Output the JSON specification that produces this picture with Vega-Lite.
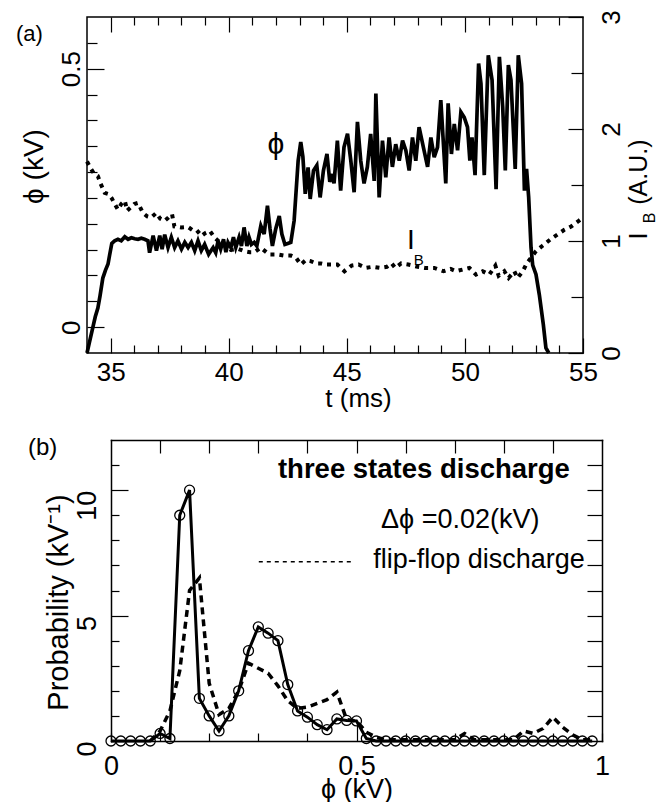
{
  "$schema": "https://vega.github.io/schema/vega-lite/v6.json",
  "padding": {"left": 15, "top": 9, "right": 0, "bottom": 0},
  "spacing": 23,
  "config": {
    "font": "Liberation Sans",
    "view": {"stroke": "#000", "strokeWidth": 1.5},
    "axis": {"domain": false, "grid": false, "tickColor": "#000", "tickWidth": 1.2, "labelColor": "#000", "titleColor": "#000", "labelFont": "Liberation Sans", "titleFont": "Liberation Sans", "labelFontSize": 26, "titleFontSize": 28, "titleFontWeight": "normal", "labelFlush": false, "labelOverlap": false, "labelBound": false, "format": "~g"},
    "text": {"font": "Liberation Sans", "color": "#000"}
  },
  "datasets": {
    "phi": [
      {"t":34.0,"v":-0.05},{"t":34.1,"v":-0.03},{"t":34.25,"v":0.0},{"t":34.35,"v":0.02},{"t":34.46,"v":0.037},{"t":34.55,"v":0.06},{"t":34.67,"v":0.095},{"t":34.78,"v":0.11},{"t":34.89,"v":0.122},{"t":34.96,"v":0.14},{"t":35.05,"v":0.162},{"t":35.17,"v":0.167},{"t":35.31,"v":0.17},{"t":35.45,"v":0.167},{"t":35.6,"v":0.175},{"t":35.74,"v":0.17},{"t":35.88,"v":0.173},{"t":36.02,"v":0.171},{"t":36.16,"v":0.17},{"t":36.3,"v":0.172},{"t":36.44,"v":0.17},{"t":36.58,"v":0.167},{"t":36.65,"v":0.144},{"t":36.8,"v":0.177},{"t":36.94,"v":0.148},{"t":37.08,"v":0.177},{"t":37.18,"v":0.151},{"t":37.29,"v":0.179},{"t":37.43,"v":0.154},{"t":37.57,"v":0.174},{"t":37.71,"v":0.154},{"t":37.85,"v":0.167},{"t":38.0,"v":0.151},{"t":38.14,"v":0.164},{"t":38.28,"v":0.154},{"t":38.42,"v":0.164},{"t":38.56,"v":0.148},{"t":38.7,"v":0.167},{"t":38.84,"v":0.148},{"t":38.98,"v":0.16},{"t":39.15,"v":0.141},{"t":39.34,"v":0.154},{"t":39.45,"v":0.144},{"t":39.55,"v":0.167},{"t":39.66,"v":0.151},{"t":39.78,"v":0.17},{"t":39.88,"v":0.145},{"t":39.97,"v":0.164},{"t":40.09,"v":0.154},{"t":40.2,"v":0.174},{"t":40.3,"v":0.154},{"t":40.44,"v":0.174},{"t":40.54,"v":0.157},{"t":40.65,"v":0.193},{"t":40.77,"v":0.157},{"t":40.86,"v":0.174},{"t":40.96,"v":0.16},{"t":41.08,"v":0.164},{"t":41.19,"v":0.157},{"t":41.36,"v":0.196},{"t":41.5,"v":0.18},{"t":41.64,"v":0.235},{"t":41.75,"v":0.19},{"t":41.85,"v":0.157},{"t":41.99,"v":0.19},{"t":42.14,"v":0.215},{"t":42.25,"v":0.18},{"t":42.38,"v":0.16},{"t":42.5,"v":0.162},{"t":42.63,"v":0.164},{"t":42.77,"v":0.206},{"t":42.94,"v":0.322},{"t":43.05,"v":0.358},{"t":43.14,"v":0.33},{"t":43.24,"v":0.258},{"t":43.36,"v":0.309},{"t":43.45,"v":0.248},{"t":43.59,"v":0.303},{"t":43.73,"v":0.313},{"t":43.87,"v":0.251},{"t":44.01,"v":0.303},{"t":44.16,"v":0.335},{"t":44.28,"v":0.281},{"t":44.4,"v":0.296},{"t":44.46,"v":0.278},{"t":44.6,"v":0.361},{"t":44.74,"v":0.264},{"t":44.88,"v":0.348},{"t":45.03,"v":0.374},{"t":45.17,"v":0.322},{"t":45.31,"v":0.261},{"t":45.45,"v":0.397},{"t":45.59,"v":0.322},{"t":45.73,"v":0.278},{"t":45.87,"v":0.31},{"t":46.01,"v":0.374},{"t":46.16,"v":0.283},{"t":46.23,"v":0.452},{"t":46.37,"v":0.251},{"t":46.51,"v":0.361},{"t":46.65,"v":0.29},{"t":46.79,"v":0.367},{"t":46.93,"v":0.31},{"t":47.07,"v":0.354},{"t":47.22,"v":0.322},{"t":47.36,"v":0.361},{"t":47.5,"v":0.342},{"t":47.64,"v":0.303},{"t":47.78,"v":0.367},{"t":47.92,"v":0.322},{"t":48.06,"v":0.387},{"t":48.27,"v":0.342},{"t":48.42,"v":0.31},{"t":48.56,"v":0.367},{"t":48.7,"v":0.329},{"t":48.84,"v":0.348},{"t":48.98,"v":0.439},{"t":49.19,"v":0.278},{"t":49.29,"v":0.433},{"t":49.43,"v":0.335},{"t":49.55,"v":0.393},{"t":49.69,"v":0.342},{"t":49.83,"v":0.416},{"t":49.97,"v":0.406},{"t":50.11,"v":0.387},{"t":50.21,"v":0.322},{"t":50.3,"v":0.367},{"t":50.43,"v":0.294},{"t":50.58,"v":0.51},{"t":50.68,"v":0.471},{"t":50.82,"v":0.294},{"t":50.99,"v":0.526},{"t":51.15,"v":0.478},{"t":51.32,"v":0.267},{"t":51.46,"v":0.523},{"t":51.6,"v":0.426},{"t":51.71,"v":0.303},{"t":51.84,"v":0.507},{"t":51.95,"v":0.478},{"t":52.13,"v":0.306},{"t":52.26,"v":0.526},{"t":52.4,"v":0.471},{"t":52.52,"v":0.264},{"t":52.61,"v":0.306},{"t":52.7,"v":0.251},{"t":52.8,"v":0.154},{"t":52.87,"v":0.12},{"t":53.01,"v":0.102},{"t":53.15,"v":0.063},{"t":53.32,"v":0.005},{"t":53.43,"v":-0.04},{"t":53.55,"v":-0.05}
    ],
    "ib": [
      {"t":34.0,"v":1.71},{"t":34.15,"v":1.65},{"t":34.3,"v":1.6},{"t":34.46,"v":1.58},{"t":34.58,"v":1.51},{"t":34.75,"v":1.43},{"t":34.9,"v":1.42},{"t":35.05,"v":1.38},{"t":35.2,"v":1.32},{"t":35.31,"v":1.28},{"t":35.45,"v":1.33},{"t":35.6,"v":1.36},{"t":35.7,"v":1.27},{"t":35.85,"v":1.3},{"t":36.0,"v":1.33},{"t":36.16,"v":1.34},{"t":36.37,"v":1.25},{"t":36.55,"v":1.22},{"t":36.72,"v":1.21},{"t":36.93,"v":1.25},{"t":37.1,"v":1.2},{"t":37.29,"v":1.18},{"t":37.45,"v":1.21},{"t":37.6,"v":1.24},{"t":37.7,"v":1.13},{"t":38.0,"v":1.12},{"t":38.28,"v":1.125},{"t":38.45,"v":1.1},{"t":38.63,"v":1.1},{"t":38.85,"v":1.045},{"t":39.0,"v":1.07},{"t":39.2,"v":1.09},{"t":39.4,"v":1.03},{"t":39.66,"v":0.98},{"t":39.9,"v":0.96},{"t":40.09,"v":0.92},{"t":40.4,"v":0.93},{"t":40.65,"v":0.91},{"t":40.9,"v":0.9},{"t":41.08,"v":0.9},{"t":41.36,"v":0.94},{"t":41.71,"v":0.88},{"t":42.07,"v":0.88},{"t":42.35,"v":0.87},{"t":42.63,"v":0.87},{"t":42.85,"v":0.85},{"t":43.05,"v":0.79},{"t":43.27,"v":0.83},{"t":43.47,"v":0.82},{"t":43.7,"v":0.8},{"t":43.9,"v":0.8},{"t":44.1,"v":0.79},{"t":44.32,"v":0.79},{"t":44.6,"v":0.79},{"t":44.9,"v":0.73},{"t":45.2,"v":0.78},{"t":45.5,"v":0.79},{"t":45.8,"v":0.76},{"t":46.1,"v":0.77},{"t":46.4,"v":0.76},{"t":46.7,"v":0.77},{"t":46.9,"v":0.8},{"t":47.05,"v":0.76},{"t":47.3,"v":0.8},{"t":47.6,"v":0.79},{"t":48.0,"v":0.77},{"t":48.3,"v":0.76},{"t":48.7,"v":0.76},{"t":49.1,"v":0.73},{"t":49.4,"v":0.75},{"t":49.62,"v":0.73},{"t":49.9,"v":0.745},{"t":50.19,"v":0.76},{"t":50.47,"v":0.7},{"t":50.75,"v":0.73},{"t":51.03,"v":0.7},{"t":51.29,"v":0.78},{"t":51.43,"v":0.69},{"t":51.67,"v":0.73},{"t":51.85,"v":0.67},{"t":52.09,"v":0.73},{"t":52.23,"v":0.67},{"t":52.45,"v":0.73},{"t":52.62,"v":0.8},{"t":52.8,"v":0.85},{"t":53.01,"v":0.91},{"t":53.3,"v":0.96},{"t":53.65,"v":1.02},{"t":53.93,"v":1.06},{"t":54.21,"v":1.1},{"t":54.5,"v":1.13},{"t":54.82,"v":1.18},{"t":55.0,"v":1.21}
    ],
    "prob": [
      {"phi":0.0,"three":0,"flip":null},{"phi":0.02,"three":0,"flip":null},{"phi":0.04,"three":0,"flip":null},{"phi":0.06,"three":0,"flip":null},{"phi":0.08,"three":0,"flip":0.0},{"phi":0.1,"three":0.3,"flip":0.4},{"phi":0.12,"three":0.1,"flip":1.2},{"phi":0.14,"three":9.0,"flip":2.8},{"phi":0.16,"three":10.0,"flip":6.0},{"phi":0.18,"three":1.7,"flip":6.5},{"phi":0.2,"three":1.0,"flip":2.3},{"phi":0.22,"three":0.4,"flip":1.05},{"phi":0.24,"three":1.0,"flip":1.3},{"phi":0.26,"three":2.0,"flip":2.0},{"phi":0.28,"three":3.6,"flip":3.1},{"phi":0.3,"three":4.55,"flip":2.9},{"phi":0.32,"three":4.3,"flip":2.7},{"phi":0.34,"three":4.0,"flip":2.2},{"phi":0.36,"three":2.25,"flip":1.6},{"phi":0.38,"three":1.2,"flip":1.3},{"phi":0.4,"three":0.95,"flip":1.35},{"phi":0.42,"three":0.65,"flip":1.5},{"phi":0.44,"three":0.45,"flip":1.65},{"phi":0.46,"three":0.88,"flip":1.95},{"phi":0.48,"three":0.82,"flip":0.85},{"phi":0.5,"three":0.8,"flip":0.8},{"phi":0.52,"three":0.1,"flip":0.35},{"phi":0.54,"three":0,"flip":0.15},{"phi":0.56,"three":0,"flip":0.05},{"phi":0.58,"three":0,"flip":0.05},{"phi":0.6,"three":0,"flip":0.05},{"phi":0.62,"three":0,"flip":0.05},{"phi":0.64,"three":0,"flip":0.05},{"phi":0.66,"three":0,"flip":0.05},{"phi":0.68,"three":0,"flip":0.05},{"phi":0.7,"three":0,"flip":0.05},{"phi":0.72,"three":0,"flip":0.3},{"phi":0.74,"three":0,"flip":0.05},{"phi":0.76,"three":0,"flip":0.05},{"phi":0.78,"three":0,"flip":0.05},{"phi":0.8,"three":0,"flip":0.05},{"phi":0.82,"three":0,"flip":0.05},{"phi":0.84,"three":0,"flip":0.4},{"phi":0.86,"three":0,"flip":0.3},{"phi":0.88,"three":0,"flip":0.5},{"phi":0.9,"three":0,"flip":0.95},{"phi":0.92,"three":0,"flip":0.55},{"phi":0.94,"three":0,"flip":0.25},{"phi":0.96,"three":0,"flip":0.05},{"phi":0.98,"three":0,"flip":0.05}
    ]
  },
  "vconcat": [
    {
      "width": 496,
      "height": 336,
      "resolve": {"scale": {"y": "independent"}, "axis": {"x": "independent", "y": "independent"}},
      "layer": [
        {
          "data": {"name": "phi"},
          "mark": {"type": "line", "color": "#000", "strokeWidth": 3.7},
          "encoding": {
            "x": {"field": "t", "type": "quantitative", "scale": {"domain": [34, 55], "nice": false, "zero": false},
              "axis": {"orient": "bottom", "values": [34,35,36,37,38,39,40,41,42,43,44,45,46,47,48,49,50,51,52,53,54,55],
                "tickSize": {"condition": {"test": "datum.value % 5 === 0", "value": -15}, "value": -8},
                "labelExpr": "datum.value % 5 === 0 ? datum.label : ''", "labelPadding": 21,
                "title": "t (ms)", "titleFontSize": 26, "titleX": 271, "titleY": 53, "titleBaseline": "alphabetic", "titleAlign": "center"}},
            "y": {"field": "v", "type": "quantitative", "scale": {"domain": [-0.05, 0.6], "nice": false, "zero": false},
              "axis": {"orient": "left", "values": [0,0.05,0.1,0.15,0.2,0.25,0.3,0.35,0.4,0.45,0.5,0.55],
                "tickSize": {"condition": {"test": "abs(datum.value) < 1e-9 || abs(datum.value - 0.5) < 1e-9", "value": -17}, "value": -10},
                "labelExpr": "(abs(datum.value) < 1e-9 || abs(datum.value - 0.5) < 1e-9) ? datum.label : ''",
                "labelAngle": -90, "labelAlign": "center", "labelBaseline": "bottom", "labelPadding": 20,
                "title": "ϕ (kV)", "titleAngle": 270, "titleX": -53, "titleY": 149, "titleBaseline": "middle", "titleAlign": "center", "titleFontSize": 28}}
          }
        },
        {
          "data": {"name": "ib"},
          "mark": {"type": "line", "color": "#000", "strokeWidth": 4, "strokeDash": [4, 5]},
          "encoding": {
            "x": {"field": "t", "type": "quantitative",
              "axis": {"orient": "top", "values": [35,36,37,38,39,40,41,42,43,44,45,46,47,48,49,50,51,52,53,54],
                "tickSize": {"condition": {"test": "datum.value % 5 === 0", "value": -15}, "value": -8},
                "labels": false, "title": null}},
            "y": {"field": "v", "type": "quantitative", "scale": {"domain": [0, 3], "nice": false, "zero": false},
              "axis": {"orient": "right", "values": [0,0.5,1,1.5,2,2.5,3],
                "tickSize": {"condition": {"test": "datum.value % 1 === 0", "value": -15}, "value": -12},
                "labelExpr": "datum.value % 1 === 0 ? datum.label : ''",
                "labelAngle": -90, "labelAlign": "center", "labelBaseline": "top", "labelPadding": 30,
                "title": "I\u00a0\u00a0\u00a0\u00a0(A.U.)", "titleAngle": 270, "titleX": 55, "titleY": 172, "titleBaseline": "middle", "titleAlign": "center", "titleFontSize": 25}}
          }
        },
        {
          "data": {"values": [{"t": 42.0, "v": 0.353, "label": "ϕ"}]},
          "mark": {"type": "text", "fontSize": 30, "align": "center", "baseline": "middle"},
          "encoding": {
            "x": {"field": "t", "type": "quantitative", "axis": null},
            "y": {"field": "v", "type": "quantitative", "scale": {"domain": [-0.05, 0.6], "nice": false, "zero": false}, "axis": null},
            "text": {"field": "label"}
          }
        },
        {
          "data": {"values": [{"t": 30.99, "v": 0.554, "label": "(a)"}]},
          "mark": {"type": "text", "fontSize": 22, "align": "left", "baseline": "alphabetic"},
          "encoding": {
            "x": {"field": "t", "type": "quantitative", "axis": null},
            "y": {"field": "v", "type": "quantitative", "scale": {"domain": [-0.05, 0.6], "nice": false, "zero": false}, "axis": null},
            "text": {"field": "label"}
          }
        },
        {
          "data": {"values": [{"t": 47.71, "v": 1.0, "label": "I"}]},
          "mark": {"type": "text", "fontSize": 28, "align": "center", "baseline": "middle"},
          "encoding": {
            "x": {"field": "t", "type": "quantitative", "axis": null},
            "y": {"field": "v", "type": "quantitative", "scale": {"domain": [0, 3], "nice": false, "zero": false}, "axis": null},
            "text": {"field": "label"}
          }
        },
        {
          "data": {"values": [{"t": 48.05, "v": 0.83, "label": "B"}]},
          "mark": {"type": "text", "fontSize": 15, "align": "center", "baseline": "middle"},
          "encoding": {
            "x": {"field": "t", "type": "quantitative", "axis": null},
            "y": {"field": "v", "type": "quantitative", "scale": {"domain": [0, 3], "nice": false, "zero": false}, "axis": null},
            "text": {"field": "label"}
          }
        },
        {
          "data": {"values": [{"t": 57.84, "v": 1.205, "label": "B"}]},
          "mark": {"type": "text", "fontSize": 16, "align": "center", "baseline": "middle", "angle": 270},
          "encoding": {
            "x": {"field": "t", "type": "quantitative", "axis": null},
            "y": {"field": "v", "type": "quantitative", "scale": {"domain": [0, 3], "nice": false, "zero": false}, "axis": null},
            "text": {"field": "label"}
          }
        }
      ]
    },
    {
      "width": 515,
      "height": 301,
      "view": {"stroke": null},
      "resolve": {"axis": {"x": "independent", "y": "independent"}},
      "layer": [
        {
          "data": {"name": "prob"},
          "mark": {"type": "line", "color": "#000", "strokeWidth": 3},
          "encoding": {
            "x": {"field": "phi", "type": "quantitative", "scale": {"domain": [0, 1], "range": [24, 515], "nice": false, "zero": false},
              "axis": {"orient": "bottom", "values": [0,0.1,0.2,0.3,0.4,0.5,0.6,0.7,0.8,0.9,1],
                "domain": true, "domainColor": "#000", "domainWidth": 1.5, "domainCap": "square",
                "tickSize": {"condition": {"test": "datum.value === 0.5", "value": -20}, "value": -8},
                "labelPadding": {"condition": {"test": "datum.value === 0.5", "value": 32}, "value": 20},
                "labelExpr": "(datum.value === 0 || datum.value === 0.5 || datum.value === 1) ? datum.label : ''",
                "labelFontSize": 27,
                "title": "ϕ (kV)", "titleFontSize": 27, "titleX": 269.5, "titleY": 56, "titleBaseline": "alphabetic", "titleAlign": "center"}},
            "y": {"field": "three", "type": "quantitative", "scale": {"domain": [0, 12], "nice": false, "zero": false},
              "axis": {"orient": "left", "offset": -24, "values": [0,1,2,3,4,5,6,7,8,9,10,11],
                "domain": true, "domainColor": "#000", "domainWidth": 1.5, "domainCap": "square",
                "tickSize": {"condition": {"test": "datum.value % 5 === 0", "value": -17}, "value": -8},
                "labelExpr": "datum.value % 5 === 0 ? datum.label : ''",
                "labelAngle": -90, "labelAlign": "right", "labelBaseline": "bottom", "labelPadding": 27, "labelFontSize": 27,
                "title": "Probability (kV⁻¹)", "titleAngle": 270, "titleX": -52.5, "titleY": 162, "titleBaseline": "middle", "titleAlign": "center", "titleFontSize": 29}}
          }
        },
        {
          "data": {"name": "prob"},
          "mark": {"type": "point", "shape": "circle", "filled": false, "color": "#000", "size": 100, "strokeWidth": 1.3, "opacity": 1},
          "encoding": {
            "x": {"field": "phi", "type": "quantitative",
              "axis": {"orient": "top", "values": [0.1,0.2,0.3,0.4,0.5,0.6,0.7,0.8,0.9], "tickSize": -13, "labels": false, "title": null,
                "domain": true, "domainColor": "#000", "domainWidth": 1.5, "domainCap": "square"}},
            "y": {"field": "three", "type": "quantitative",
              "axis": {"orient": "right", "values": [1,2,3,4,5,6,7,8,9,10,11], "tickSize": -15, "labels": false, "title": null,
                "domain": true, "domainColor": "#000", "domainWidth": 1.5, "domainCap": "square"}}
          }
        },
        {
          "data": {"name": "prob"},
          "transform": [{"filter": "datum.flip != null"}],
          "mark": {"type": "line", "color": "#000", "strokeWidth": 3.5, "strokeDash": [7, 5]},
          "encoding": {
            "x": {"field": "phi", "type": "quantitative", "axis": null},
            "y": {"field": "flip", "type": "quantitative", "axis": null}
          }
        },
        {
          "data": {"values": [{"x": 0.301, "x2": 0.489, "y": 7.15}]},
          "mark": {"type": "rule", "color": "#000", "strokeWidth": 1.5, "strokeDash": [4, 4]},
          "encoding": {
            "x": {"field": "x", "type": "quantitative", "axis": null},
            "x2": {"field": "x2"},
            "y": {"field": "y", "type": "quantitative", "axis": null}
          }
        },
        {
          "data": {"values": [{"x": 0.34, "y": 10.49, "label": "three states discharge"}]},
          "mark": {"type": "text", "fontSize": 27.5, "fontWeight": "bold", "align": "left", "baseline": "alphabetic"},
          "encoding": {
            "x": {"field": "x", "type": "quantitative", "axis": null},
            "y": {"field": "y", "type": "quantitative", "axis": null},
            "text": {"field": "label"}
          }
        },
        {
          "data": {"values": [{"x": 0.55, "y": 8.5, "label": "Δϕ =0.02(kV)"}, {"x": 0.534, "y": 6.9, "label": "flip-flop discharge"}]},
          "mark": {"type": "text", "fontSize": 27, "align": "left", "baseline": "alphabetic"},
          "encoding": {
            "x": {"field": "x", "type": "quantitative", "axis": null},
            "y": {"field": "y", "type": "quantitative", "axis": null},
            "text": {"field": "label"}
          }
        },
        {
          "data": {"values": [{"x": -0.169, "y": 11.41, "label": "(b)"}]},
          "mark": {"type": "text", "fontSize": 24, "align": "left", "baseline": "alphabetic"},
          "encoding": {
            "x": {"field": "x", "type": "quantitative", "axis": null},
            "y": {"field": "y", "type": "quantitative", "axis": null},
            "text": {"field": "label"}
          }
        }
      ]
    }
  ]
}
